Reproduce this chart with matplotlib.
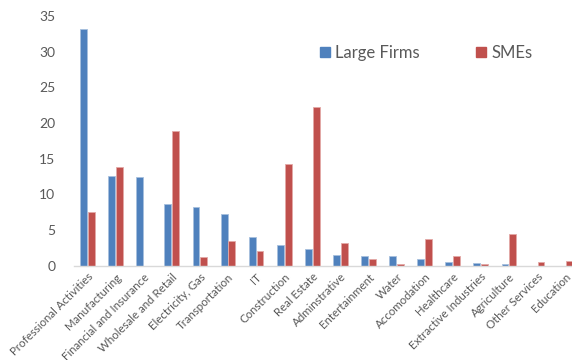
import matplotlib
matplotlib.use("Agg")
import matplotlib.pyplot as plt
from matplotlib.patches import Patch
import numpy as np

plt.rcParams['font.family'] = ['Lato', 'DejaVu Sans']

sectors = ["Professional Activities", "Manufacturing", "Financial and Insurance",
           "Wholesale and Retail", "Electricity, Gas", "Transportation", "IT",
           "Construction", "Real Estate", "Adminstrative", "Entertainment", "Water",
           "Accomodation", "Healthcare", "Extractive Industries", "Agriculture",
           "Other Services", "Education"]
large_firms = [33.2, 12.6, 12.5, 8.6, 8.2, 7.2, 4.0, 2.9, 2.3, 1.5, 1.4, 1.4,
               0.9, 0.5, 0.4, 0.3, 0.0, 0.0]
smes = [7.5, 13.8, 0.0, 18.9, 1.2, 3.4, 2.1, 14.3, 22.2, 3.2, 0.9, 0.3,
        3.7, 1.3, 0.3, 4.4, 0.5, 0.7]
y_ticks = [0, 5, 10, 15, 20, 25, 30, 35]

blue = "#4F81BD"
red = "#C0504D"
grey = "#595959"

fig = plt.figure(figsize=(5.72, 3.6), dpi=100)
# plot area runs slightly past the right edge, last group is clipped
ax = fig.add_axes([0.1285, 0.262, 0.884, 0.6935])

x = np.arange(len(sectors))
w = 0.245
ax.bar(x - 0.14, large_firms, w, color=blue, edgecolor="#A7C0DE", linewidth=0.6)
ax.bar(x + 0.14, smes, w, color=red, edgecolor="#E3A9A7", linewidth=0.6)

ax.set_xlim(-0.5, len(sectors) - 0.5)
ax.set_ylim(0, 35)
ax.set_yticks(y_ticks)
ax.tick_params(axis="y", length=0, pad=13, labelsize=10, labelcolor=grey)
ax.tick_params(axis="x", length=0, pad=4, labelsize=8.3, labelcolor=grey)
ax.set_xticks(x)
ax.set_xticklabels(sectors, rotation=45, ha="right", va="top", rotation_mode="anchor")

for side in ["top", "right", "left"]:
    ax.spines[side].set_visible(False)
ax.spines["bottom"].set_color("#D9D9D9")
ax.spines["bottom"].set_linewidth(1)

handles = [Patch(color=blue, label="Large Firms"), Patch(color=red, label="SMEs")]
leg = fig.legend(handles=handles, loc="center", bbox_to_anchor=(0.745, 0.853), ncol=2,
                 frameon=False, fontsize=12, handlelength=0.6, handleheight=0.6,
                 handletextpad=0.3, columnspacing=3.4)
for t in leg.get_texts():
    t.set_color(grey)

fig.savefig("out.png", dpi=100)
